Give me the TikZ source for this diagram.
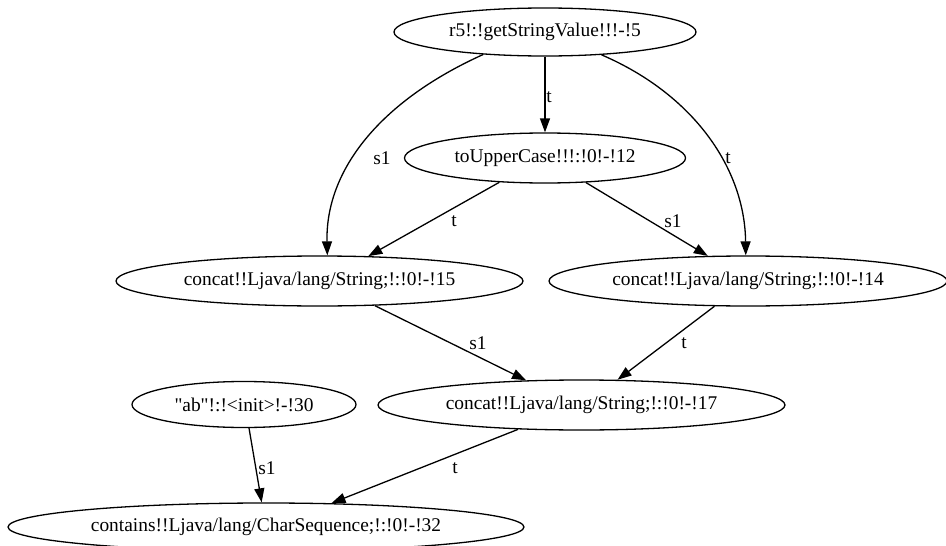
\documentclass[tikz,border=0pt]{standalone}
\usepackage{fontspec}
\setmainfont{Liberation Serif}[Ligatures=TeXOff]
\usetikzlibrary{shapes.geometric,arrows.meta}
\begin{document}
\begin{tikzpicture}[x=1pt,y=-1pt,
  state/.style={ellipse,draw,line width=1.3pt,inner sep=0pt,
    font=\fontsize{19.4}{23}\selectfont},
  flow/.style={line width=1.3pt,-{Triangle[length=14pt,width=10pt]}},
  lbl/.style={inner sep=0pt,font=\fontsize{19.4}{23}\selectfont}]
\useasboundingbox (0,0) rectangle (946,546);

% call-graph nodes
\node[state,minimum width=302,minimum height=48] (r5) at (545,32) {r5!:!getStringValue!!!-!5};
\node[state,minimum width=281,minimum height=50] (toupper) at (545,158) {toUpperCase!!!:!0!-!12};
\node[state,minimum width=407,minimum height=50] (c15) at (319.5,281) {concat!!Ljava/lang/String;!:!0!-!15};
\node[state,minimum width=398,minimum height=50] (c14) at (748,281) {concat!!Ljava/lang/String;!:!0!-!14};
\node[state,minimum width=224,minimum height=46] (ab) at (244,404.5) {"ab"!:!<init>!-!30};
\node[state,minimum width=407,minimum height=50] (c17) at (581.5,405) {concat!!Ljava/lang/String;!:!0!-!17};
\node[state,minimum width=516,minimum height=48] (contains) at (266,527) {contains!!Ljava/lang/CharSequence;!:!0!-!32};

% edges
\draw[flow] (r5.-90) -- (toupper.90);
\draw[flow] (r5.-160) .. controls +(-102,46) and +(-2,-86) .. (c15.73);
\draw[flow] (r5.-22) .. controls +(93,40) and +(-1,-86) .. (c14.95);
\draw[flow] (toupper.-152) -- (c15.27);
\draw[flow] (toupper.-31) -- (c14.148);
\draw[flow] (c15.-24) -- (c17.156);
\draw[flow] (c14.-143) -- (c17.35);
\draw[flow] (c17.-159) -- (contains.20);
\draw[flow] (ab.-78) -- (contains.100);

% edge labels
\node[lbl] (l1) at (549,97) {t};
\node[lbl] (l2) at (382,158) {s1};
\node[lbl] (l3) at (728,158) {t};
\node[lbl] (l4) at (454,221) {t};
\node[lbl] (l5) at (673,221) {s1};
\node[lbl] (l6) at (478,343) {s1};
\node[lbl] (l7) at (684,343) {t};
\node[lbl] (l8) at (455,468) {t};
\node[lbl] (l9) at (267,468) {s1};
\end{tikzpicture}
\end{document}
